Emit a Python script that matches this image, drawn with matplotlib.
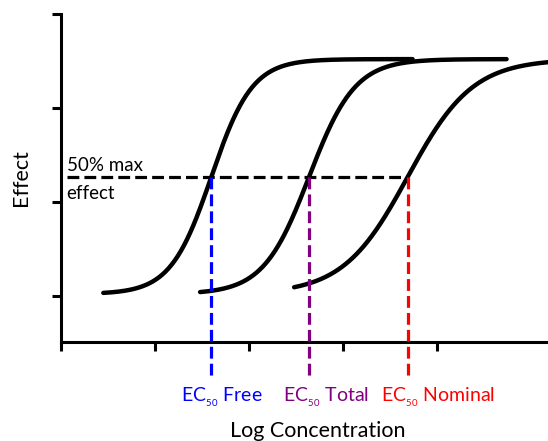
import numpy as np
import matplotlib.pyplot as plt

plt.rcParams['font.family'] = ['Lato', 'DejaVu Sans']
plt.rcParams['mathtext.fontset'] = 'custom'
plt.rcParams['mathtext.rm'] = 'Lato'

# curve parameters (x in "log concentration" units)
names = ["Free", "Total", "Nominal"]
ec50 = [1.60, 2.64, 3.69]
hill = [4.6, 4.1, 2.9]
x_start = [0.45, 1.48, 2.48]
x_end = [3.74, 4.74, 5.40]
bottom = 0.02
top = 2.52
label_x = [1.28, 2.36, 3.40]
label_colors = ["#0000ff", "#800080", "#ff0000"]

x_ticks = [0, 1, 2, 3, 4]
y_ticks = [0, 1, 2, 3]

fig = plt.figure(figsize=(5.48, 4.41), dpi=100)
ax = fig.add_axes([61 / 548, 1 - 342 / 441, 1 - 61 / 548, (342 - 14) / 441])

half = (bottom + top) / 2

# sigmoid curves
for e, k, xs, xe in zip(ec50, hill, x_start, x_end):
    xx = np.linspace(xs, xe, 300)
    yy = bottom + (top - bottom) / (1 + np.exp(-k * (xx - e)))
    ax.plot(xx, yy, color="black", linewidth=3.2, solid_capstyle="round", zorder=3)

# 50% line
ax.plot([0.06, ec50[-1]], [half, half], color="black", linestyle="--",
        linewidth=2.3, zorder=2)

# EC50 drops
for e, lx, c, name in zip(ec50, label_x, label_colors, names):
    ax.plot([e, e], [half, -0.86], color=c, linestyle="--", linewidth=2.3,
            clip_on=False, zorder=4)
    ax.text(lx, -1.117, "EC$_{_{\\mathrm{50}}}$ " + name, color=c,
            fontsize=14, ha="left", va="baseline", clip_on=False)

ax.text(0.06, 1.33, "50% max", fontsize=13.5, va="baseline")
ax.text(0.06, 1.03, "effect", fontsize=13.5, va="baseline")

ax.set_xlim(0, (548 - 61) / 94)
ax.set_ylim(-0.49, 3.0)
ax.set_xticks(x_ticks)
ax.set_yticks(y_ticks)
ax.set_xticklabels([])
ax.set_yticklabels([])
ax.tick_params(length=6.5, width=2.2, color="black")
for s in ["top", "right"]:
    ax.spines[s].set_visible(False)
for s in ["left", "bottom"]:
    ax.spines[s].set_linewidth(2.2)

fig.text(318 / 548, 1 - 437 / 441, "Log Concentration", fontsize=15.5,
         ha="center", va="baseline")
fig.text(21 / 548, 1 - 178 / 441, "Effect", fontsize=15.5, rotation=90,
         ha="center", va="center")

fig.savefig("out.png", dpi=100)
